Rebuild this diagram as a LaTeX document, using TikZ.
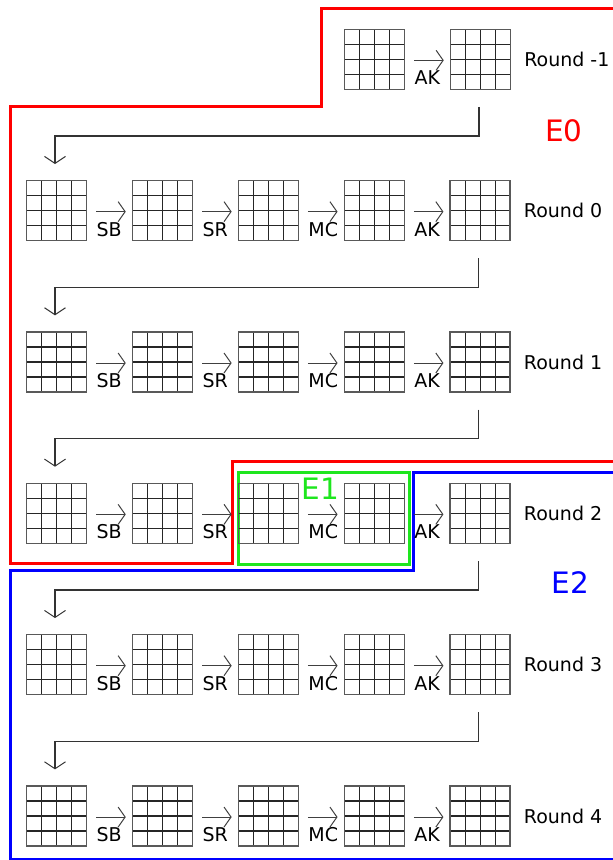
\documentclass[tikz,border=0pt]{standalone}
\usepackage{fontspec}
\setmainfont{DejaVu Sans}
\usetikzlibrary{arrows.meta,calc}

\definecolor{egreen}{RGB}{30,230,30}

\tikzset{
    state/.style={draw=black!65, line width=1.3pt, minimum size=60pt, inner sep=0pt, anchor=center,
        path picture={
            \foreach \k in {0.25,0.5,0.75}{
                \draw[black!85, line width=1.2pt] ($(path picture bounding box.south west)!\k!(path picture bounding box.south east)$) -- ($(path picture bounding box.north west)!\k!(path picture bounding box.north east)$);
                \draw[black!85, line width=1.2pt] ($(path picture bounding box.south west)!\k!(path picture bounding box.north west)$) -- ($(path picture bounding box.south east)!\k!(path picture bounding box.north east)$);
            }
        }},
    op/.style={draw=black!75, line width=1pt, -{Straight Barb[length=7pt,width=20pt]}},
    oplabel/.style={font=\fontsize{19}{21}\selectfont, inner sep=0pt, anchor=north west, yshift=-10pt},
    rlabel/.style={font=\fontsize{19}{21}\selectfont, inner sep=0pt, anchor=west},
    link/.style={draw=black!80, line width=1.5pt, -{Straight Barb[length=7pt,width=21pt,line width=1pt]}},
    elabel/.style={font=\fontsize{29.5}{32}\selectfont, inner sep=0pt},
    region/.style={line width=3pt, line join=miter}
}

\begin{document}
\begin{tikzpicture}[x=1pt, y=1pt]

    \useasboundingbox (0,0) rectangle (613,-860);

    % Draw the key areas
    \draw[region, red] (613,-8.3) -- (321.7,-8.3) -- (321.7,-106) -- (10.5,-106) -- (10.5,-563.3) -- (232.4,-563.3) -- (232.4,-461.7) -- (613,-461.7);
    \draw[region, blue] (613,-472.7) -- (413.3,-472.7) -- (413.3,-570.5) -- (10.5,-570.5) -- (10.5,-859) -- (613,-859);
    \draw[region, egreen] (238.3,-472.7) rectangle (409.3,-564.3);

    % Draw the states of round -1
    \node[state] (s04) at (374.5,-59.3) {};
    \node[state] (s05) at (480.4,-59.3) {};
    \draw[op] ([xshift=9pt,yshift=-1pt]s04.east) -- node[pos=0, oplabel] {AK} ([xshift=-6pt,yshift=-1pt]s05.west);
    \node[rlabel] (l0) at ([xshift=13pt]s05.east) {Round -1};

    % Draw the states of the full rounds
    \foreach \r/\lab in {1/0,2/1,3/2,4/3,5/4}{
        \foreach \c in {1,...,5}{
            \node[state] (s\r\c) at ({56.5+105.9*(\c-1)}, {-59.3-151.35*\r}) {};
        }
        \foreach \c/\d/\t in {1/2/SB,2/3/SR,3/4/MC,4/5/AK}{
            \draw[op] ([xshift=9pt,yshift=-1pt]s\r\c.east) -- node[pos=0, oplabel] {\t} ([xshift=-6pt,yshift=-1pt]s\r\d.west);
        }
        \node[rlabel] (l\r) at ([xshift=13pt]s\r5.east) {Round \lab};
    }

    % Connect the rounds
    \foreach \r/\n in {0/1,1/2,2/3,3/4,4/5}{
        \draw[link] ([xshift=-1.5pt,yshift=-17pt]s\r5.south) -- ++(0,-29) -| ([xshift=-1.5pt,yshift=16pt]s\n1.north);
    }

    % Label the areas
    \node[elabel, red] (e0) at (564,-131) {E0};
    \node[elabel, egreen] (e1) at (320.2,-489) {E1};
    \node[elabel, blue] (e2) at (570.5,-583) {E2};

\end{tikzpicture}
\end{document}
